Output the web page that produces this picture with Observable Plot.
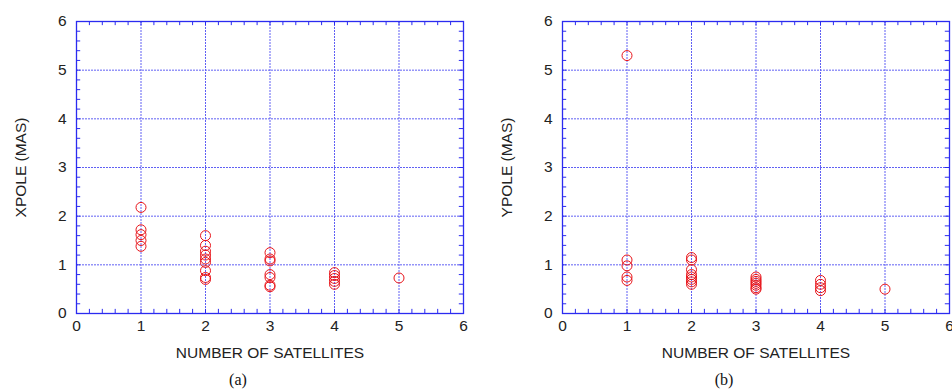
<!DOCTYPE html>
<html>
<head>
<meta charset="utf-8">
<script src="https://cdn.jsdelivr.net/npm/d3@7"></script>
<script src="https://cdn.jsdelivr.net/npm/@observablehq/plot@0.6"></script>
<style>
  html, body { margin: 0; padding: 0; background: #fff; overflow: hidden; width: 952px; height: 391px; }
  #wrap { display: flex; width: 972px; }
  .panel { width: 486px; flex: none; }
  .cap { width: 476px; text-align: center; font-family: "Liberation Serif", "Times New Roman", serif; font-size: 16px; line-height: 24px; color: #111; }
</style>
</head>
<body>
<div id="wrap"></div>
<script>
// Panel (a): XPOLE vs number of satellites
const satsA  = [1,1,1,1,1, 2,2,2,2,2,2,2,2,2, 3,3,3,3,3,3,3, 4,4,4,4,4, 5];
const xpole  = [2.18,1.72,1.62,1.5,1.38, 1.6,1.4,1.28,1.2,1.12,1.05,0.88,0.74,0.7, 1.25,1.12,1.08,0.8,0.74,0.58,0.55, 0.84,0.78,0.72,0.66,0.6, 0.73];
// Panel (b): YPOLE vs number of satellites
const satsB  = [1,1,1,1,1, 2,2,2,2,2,2,2,2, 3,3,3,3,3,3,3, 4,4,4,4, 5];
const ypole  = [5.3,1.1,0.98,0.75,0.68, 1.15,1.1,0.9,0.8,0.75,0.7,0.65,0.6, 0.75,0.7,0.66,0.62,0.58,0.53,0.5, 0.68,0.6,0.53,0.47, 0.5];
const xTicks = [0,1,2,3,4,5,6];
const yTicks = [0,1,2,3,4,5,6];
const gridVals = [1,2,3,4,5];
const panels = [
  {sats: satsA, vals: xpole, ylabel: "XPOLE (MAS)", caption: "(a)"},
  {sats: satsB, vals: ypole, ylabel: "YPOLE (MAS)", caption: "(b)"}
];

const minor = d3.range(0, 30.5).map(i => i / 5);
const blue = "#2b2bf0";
const gridBlue = "#6060f4";
const tx = 0.065, ty = 0.085; // inward tick lengths in data units

for (const p of panels) {
  const data = p.sats.map((s, i) => ({s, v: p.vals[i]}));
  const chart = Plot.plot({
    width: 486,
    height: 368,
    marginLeft: 76,
    marginRight: 23,
    marginTop: 21,
    marginBottom: 55,
    style: {fontFamily: "'Liberation Sans', Arial, sans-serif", fontSize: "15.5px", color: "#222", background: "#fff"},
    x: {domain: [0, 6]},
    y: {domain: [0, 6]},
    marks: [
      Plot.ruleY(gridVals, {y: d => d, stroke: gridBlue, strokeDasharray: "2,1"}),
      Plot.ruleX(gridVals, {x: d => d, stroke: gridBlue, strokeDasharray: "2,1"}),
      Plot.ruleX(minor, {x: d => d, y1: 0, y2: ty, stroke: blue}),
      Plot.ruleX(minor, {x: d => d, y1: 6 - ty, y2: 6, stroke: blue}),
      Plot.ruleY(minor, {y: d => d, x1: 0, x2: tx, stroke: blue}),
      Plot.ruleY(minor, {y: d => d, x1: 6 - tx, x2: 6, stroke: blue}),
      Plot.frame({stroke: blue, strokeWidth: 1.3}),
      Plot.axisX(xTicks, {tickSize: 0, tickPadding: 6, label: "NUMBER OF SATELLITES", labelAnchor: "center", labelArrow: "none", labelOffset: 44}),
      Plot.axisY(yTicks, {tickSize: 0, tickPadding: 10, label: p.ylabel, labelAnchor: "center", labelArrow: "none", labelOffset: 62}),
      Plot.dot(data, {x: "s", y: "v", r: 5, stroke: "#e8141a", fill: "none", strokeWidth: 1})
    ]
  });
  const panel = document.createElement("div");
  panel.className = "panel";
  panel.appendChild(chart);
  const cap = document.createElement("div");
  cap.className = "cap";
  cap.textContent = p.caption;
  panel.appendChild(cap);
  document.getElementById("wrap").appendChild(panel);
}
</script>
</body>
</html>
